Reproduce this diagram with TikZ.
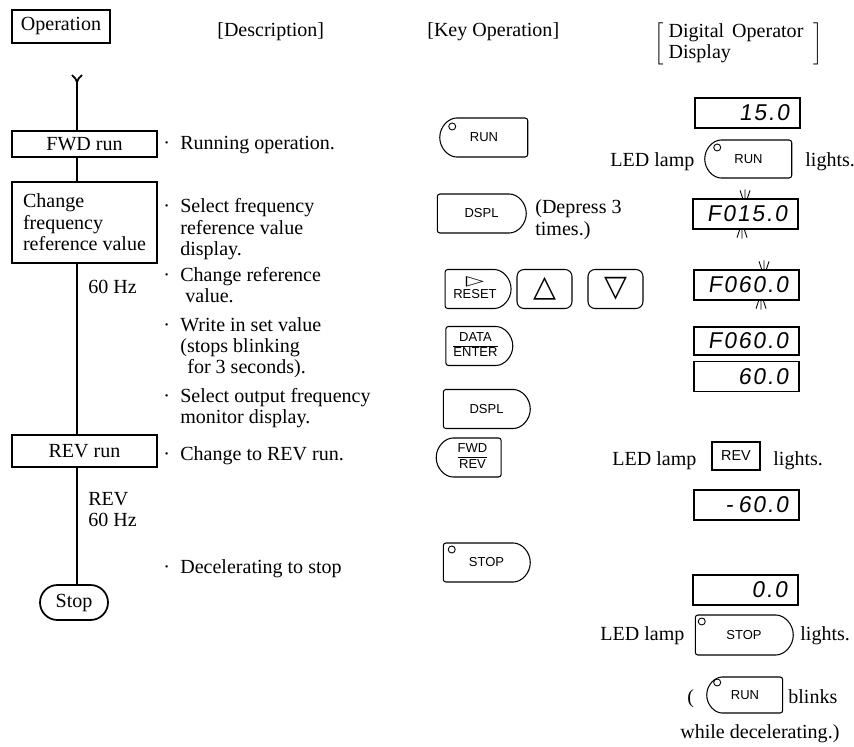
\documentclass[tikz,border=0pt]{standalone}
\usepackage{fontspec}
\usepackage{graphicx}
\setmainfont{Liberation Serif}
\newfontfamily\keyfont{Liberation Sans}
\newfontfamily\segfont[FakeSlant=0.15,LetterSpace=8]{Liberation Sans}
\newfontfamily\symfont{DejaVu Sans}
\usetikzlibrary{shapes.misc,calc}

\newcommand\lines[1]{\begin{tabular}[t]{@{}l@{}}#1\end{tabular}}
\newcommand\bul{\makebox[0.34cm][l]{\textperiodcentered}}
\newcommand\keyfrac[2]{\begin{tabular}{@{}c@{}}#1\\\hline #2\end{tabular}}
\newcommand\keysize{\keyfont\fontsize{7.4}{8.6}\selectfont}
\newcommand\segsize{\segfont\fontsize{13}{13}\selectfont}

\tikzset{
  every node/.style={font=\fontsize{11.4}{12.2}\selectfont},
  txt/.style={anchor=base west, inner sep=0},
  opbox/.style={draw, line width=1pt, inner sep=0},
  key/.style={draw, line width=0.6pt, font=\keysize, minimum height=0.78cm, inner sep=0},
  lkey/.style={key, rounded rectangle, rounded rectangle right arc=none, rounded corners=1.5pt},
  rkey/.style={key, rounded rectangle, rounded rectangle left arc=none, rounded corners=1.5pt},
  sqkey/.style={key, rounded corners=4pt},
  disp/.style={draw, line width=0.7pt, minimum height=0.6cm, text width=1.66cm,
    align=right, inner xsep=0.22cm, inner ysep=0, font=\segsize},
}

\begin{document}
\begin{tikzpicture}[x=0.02cm, y=-0.02cm]
\useasboundingbox (0,0) rectangle (854,746);

% headings
\node[opbox, minimum width=1.96cm, minimum height=0.66cm] (opname) at (61,26.5) {Operation};
\node[txt] (deschead) at (217,37) {[Description]};
\node[txt] (keyhead) at (427,37) {[Key Operation]};
\node (disphead) at (738.5,44) {$\left[\hspace{0.1cm}\begin{tabular}{@{}l@{}}Digital\hspace{0.4em}Operator\\Display\end{tabular}\hspace{0.2cm}\right]$};

% operation column
\coordinate (fork) at (77,83);
\node[opbox, minimum width=2.9cm, minimum height=0.52cm] (fwd) at (84.5,144) {FWD run};
\node[opbox, minimum width=2.9cm, minimum height=1.62cm, align=left] (chg) at (84.5,222.5) {Change\\frequency\\reference value};
\node[opbox, minimum width=2.9cm, minimum height=0.64cm] (rev) at (84.5,451) {REV run};
\node[draw, line width=1pt, rounded rectangle, minimum width=1.36cm, minimum height=0.7cm, inner sep=0] (stopnode) at (74,602.5) {Stop};
\node[txt] (hz1) at (88,293) {60 Hz};
\node[txt] (hz2) at (88,505) {\lines{REV\\60 Hz}};

\draw[line width=1pt] ($(fork)+(-5,-8)$) .. controls ($(fork)+(-1,-4)$) .. (fork)
  .. controls ($(fork)+(1,-4)$) .. ($(fork)+(5,-8)$);
\draw[line width=1pt] (fork) -- (fork |- fwd.north);
\draw[line width=1pt] (fwd.south -| fork) -- (chg.north -| fork);
\draw[line width=1pt] (chg.south -| fork) -- (rev.north -| fork);
\draw[line width=1pt] (rev.south -| fork) -- (stopnode.north -| fork);

% description column
\node[txt] (d1) at (163,150) {\bul Running operation.};
\node[txt] (d2) at (163,213) {\bul\lines{Select frequency\\reference value\\display.}};
\node[txt] (d3) at (163,281) {\bul\lines{Change reference\\\hspace{0.1cm}value.}};
\node[txt] (d4) at (163,331) {\bul\lines{Write in set value\\(stops blinking\\\hspace{0.14cm}for 3 seconds).}};
\node[txt] (d5) at (163,402) {\bul\lines{Select output frequency\\monitor display.}};
\node[txt] (d6) at (163,460) {\bul Change to REV run.};
\node[txt] (d7) at (163,573) {\bul Decelerating to stop};

% key column
\node[lkey, minimum width=1.76cm] (keyrun) at (484,137.5) {RUN};
\node[rkey, minimum width=1.78cm] (keydspl) at (481.5,213.5) {DSPL};
\node[txt] (depress) at (535,214) {\lines{(Depress 3\\times.)}};
\node[rkey, minimum width=1.32cm] (keyreset) at (475,289)
  {\begin{tabular}{@{}c@{}}\scalebox{1.35}[0.8]{\symfont\fontsize{10}{10}\selectfont ▷}\\[-1pt]RESET\end{tabular}};
\node[sqkey, minimum width=1.1cm] (keyup) at (544.5,289) {\symfont\fontsize{17}{17}\selectfont △};
\node[sqkey, minimum width=1.1cm] (keydown) at (615.5,289) {\symfont\fontsize{17}{17}\selectfont ▽};
\node[rkey, minimum width=1.34cm] (keydata) at (475.5,346) {\keyfrac{DATA}{ENTER}};
\node[rkey, minimum width=1.74cm] (keydsplb) at (486.5,409) {DSPL};
\node[lkey, minimum width=1.3cm] (keyfwdrev) at (472.5,457.5) {\keyfrac{FWD}{REV}};
\node[rkey, minimum width=1.74cm] (keystop) at (486.5,562.5) {STOP};

% display column
\node[disp] (disp1) at (747.5,113) {15.0};
\node[txt] (led1) at (610,167) {LED lamp};
\node[lkey, minimum width=1.74cm, minimum height=0.76cm] (lamprun) at (748.5,159) {RUN};
\node[txt] (lights1) at (805,167) {lights.};
\node[disp] (disp2) at (745.5,214) {F015.0};
\node[disp] (disp3) at (746.5,285) {F060.0};
\node[disp, minimum height=0.56cm] (disp4) at (746.5,341) {F060.0};
\node[disp] (disp5) at (746.5,376.5) {60.0};
\node[txt] (led2) at (612,465) {LED lamp};
\node[draw, line width=0.7pt, font=\keyfont\fontsize{8.2}{9}\selectfont, minimum width=0.96cm, minimum height=0.56cm, inner sep=0] (lamprev) at (736,456) {REV};
\node[txt] (lights2) at (773,465) {lights.};
\node[disp] (disp6) at (746.5,505) {-\hspace{0.1cm}60.0};
\node[disp] (disp7) at (745.5,590) {0.0};
\node[txt] (led3) at (600,640) {LED lamp};
\node[rkey, minimum width=1.96cm, minimum height=0.8cm] (lampstop) at (744,635) {STOP};
\node[txt] (lights3) at (800,640) {lights.};
\node[txt] (paren) at (687,703) {(};
\node[lkey, minimum width=1.52cm, minimum height=0.72cm] (lampblink) at (745,695) {RUN};
\node[txt] (blinks) at (788,703) {blinks};
\node[txt] (whiledec) at (680,738) {while decelerating.)};

% lamps on the keys
\foreach \k/\dx/\dy in {keyrun/13/9, lamprun/13/8, lampblink/11/6, keystop/9/7, lampstop/7/7}
  \draw[line width=0.5pt] ($(\k.north -| \k.west)+(\dx,\dy)$) circle[radius=0.07cm];

% blinking digit
\foreach \d/\bx in {disp2/745, disp3/764} {
  \coordinate (bt) at (\bx,0 |- \d.north);
  \coordinate (bb) at (\bx-3,0 |- \d.south);
  \draw[line width=0.5pt] ($(bt)+(-2,1)$) -- ++(-3,-9) ($(bt)+(0,1)$) -- ++(0,-10) ($(bt)+(2,1)$) -- ++(3,-9)
    ($(bb)+(-2,-1)$) -- ++(-3,9) ($(bb)+(0,-1)$) -- ++(0,10) ($(bb)+(2,-1)$) -- ++(3,9);
}
\end{tikzpicture}
\end{document}
